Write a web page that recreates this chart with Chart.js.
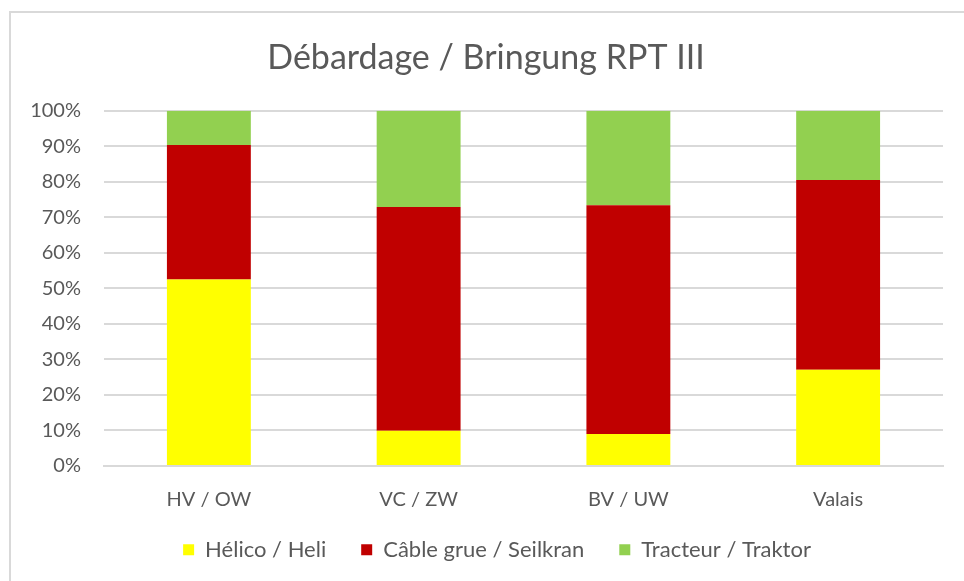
<!DOCTYPE html>
<html>
<head>
<meta charset="utf-8">
<script src="https://cdn.jsdelivr.net/npm/chart.js@4.4.1/dist/chart.umd.min.js"></script>
<style>
  html, body { margin: 0; padding: 0; background: #fff; }
  #cadre { position: absolute; left: 9px; top: 11px; width: 1000px; height: 620px;
           border-top: 2px solid #d9d9d9; border-left: 2px solid #d9d9d9; }
  #wrap { position: absolute; left: 0; top: 0; width: 964px; height: 581px; }
</style>
</head>
<body>
<div id="cadre"></div>
<div id="wrap"><canvas id="bringung" width="964" height="581"></canvas></div>
<script>
//---------------------Données – Débardage / Bringung RPT III-----------------------
const regions = ['HV / OW', 'VC / ZW', 'BV / UW', 'Valais'];
const helico = [52.5, 9.9, 9.0, 27.1];
const cable = [37.9, 63.0, 64.4, 53.4];
const tracteur = [9.6, 27.1, 26.6, 19.5];
const ticksPct = [0, 10, 20, 30, 40, 50, 60, 70, 80, 90, 100];

const gris = '#595959';
const police = "Lato, 'Open Sans', sans-serif";
const legPadding = 35;
const legFont = 22;

// légende : hauteur fixe + placée à la main (espacement horizontal large)
const legendeFixe = {
    id: 'legendeFixe',
    afterInit(chart) {
        const leg = chart.legend;
        const fitOrig = leg.fit;
        leg.fit = function () { fitOrig.call(this); this.height = 49; };
    },
    afterLayout(chart) {
        const leg = chart.legend;
        leg.top = 552 - legPadding - legFont * 1.2 / 2;
        leg.bottom = chart.height; // sinon le texte est coupé par le clip
        leg.left += 11;
        leg.right += 11;
    }
};

const ctx = document.getElementById('bringung').getContext('2d');
const graphique = new Chart(ctx, {
    type: 'bar',
    data: {
        labels: regions,
        datasets: [
            { label: 'Hélico / Heli', data: helico, backgroundColor: '#ffff00' },
            { label: 'Câble grue / Seilkran', data: cable, backgroundColor: '#c00000' },
            { label: 'Tracteur / Traktor', data: tracteur, backgroundColor: '#92d050' }
        ]
    },
    plugins: [legendeFixe],
    options: {
        responsive: false,
        animation: false,
        layout: { padding: { left: 29, right: 21, top: 38, bottom: 6 } },
        datasets: { bar: { categoryPercentage: 0.8, barPercentage: 0.5 } },
        plugins: {
            tooltip: { enabled: false },
            title: {
                display: true,
                text: 'Débardage / Bringung RPT III',
                color: gris,
                font: { family: police, size: 34, weight: 'normal' },
                padding: { top: 0, bottom: 32 }
            },
            legend: {
                position: 'bottom',
                labels: {
                    color: gris,
                    font: { family: police, size: legFont },
                    boxWidth: 11, boxHeight: 11, padding: legPadding
                }
            }
        },
        scales: {
            x: {
                stacked: true,
                grid: { display: false },
                border: { color: '#d9d9d9', width: 2 },
                ticks: { color: gris, font: { family: police, size: 20 }, padding: 14 }
            },
            y: {
                stacked: true,
                min: 0, max: 100,
                afterFit: scale => { scale.width = 75; },
                afterBuildTicks: scale => { scale.ticks = ticksPct.map(v => ({ value: v })); },
                grid: { color: '#d9d9d9', lineWidth: 2, drawTicks: false },
                border: { display: false },
                ticks: {
                    color: gris, padding: 23,
                    font: { family: police, size: 20 },
                    callback: v => v + '%'
                }
            }
        }
    }
});
graphique.update();
</script>
</body>
</html>
